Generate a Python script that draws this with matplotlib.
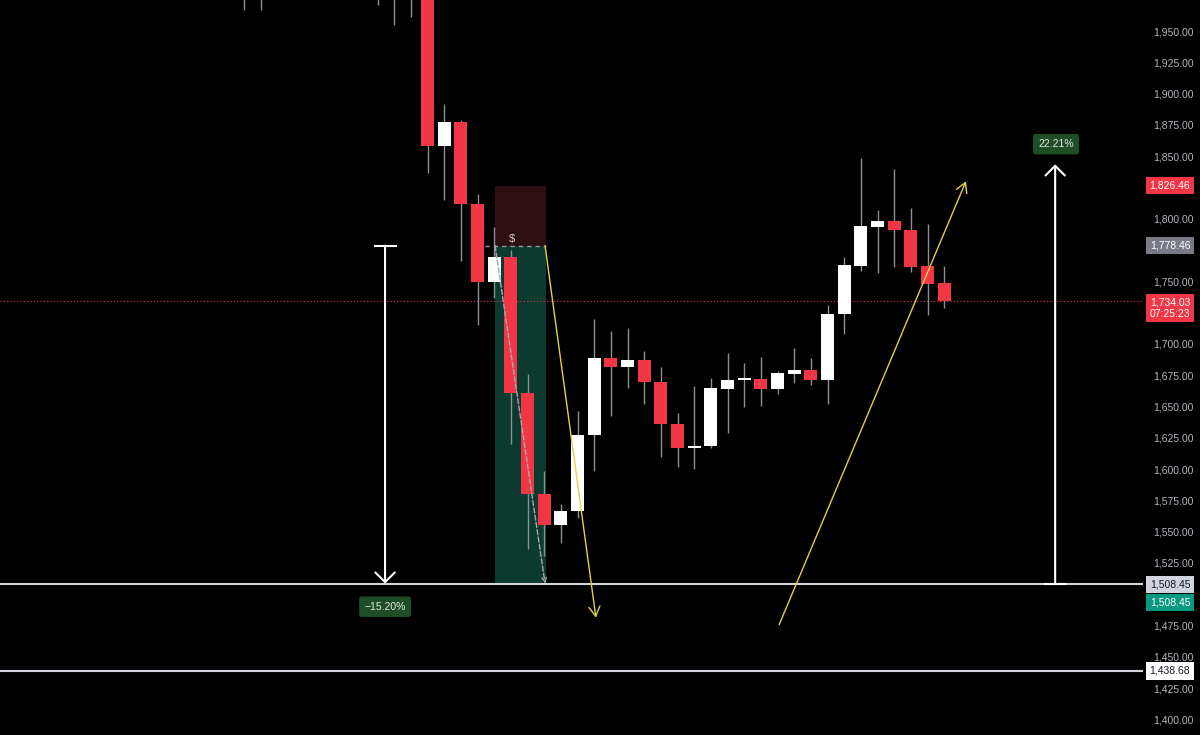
import matplotlib
matplotlib.use('Agg')
import matplotlib.pyplot as plt
import matplotlib.transforms as mtrans
from matplotlib.patches import Rectangle

plt.rcParams['font.family'] = ['Liberation Sans', 'DejaVu Sans']

# candles, index 0 = the tall red bar coming in from the top
idx = list(range(-11, 32))
opens = [2030, 2010, 2025, 2050, 2040, 2015, 2030, 2000, 2020, 2005, 1995,
         1990, 1858.0, 1877.2, 1811.6, 1749.2, 1769.2, 1660.4, 1580.4, 1555.6, 1566.8,
         1627.6, 1688.4, 1681.2, 1686.8, 1669.2, 1636.4, 1617.2, 1618.8, 1663.6, 1670.8,
         1671.6, 1663.6, 1675.6, 1678.8, 1670.8, 1723.6, 1762.0, 1793.2, 1798.0, 1790.8,
         1762.0, 1748.4]
highs = [2045, 2040, 2060, 2070, 2055, 2035, 2045, 2030, 2035, 2025, 2010,
         2000, 1891.6, 1878.8, 1819.6, 1793.2, 1774.8, 1675.6, 1598.8, 1572.4, 1646.0,
         1719.6, 1710.0, 1712.4, 1694.0, 1681.2, 1644.4, 1666.0, 1672.4, 1692.4, 1684.4,
         1689.2, 1678.0, 1696.4, 1688.4, 1730.8, 1769.2, 1848.4, 1806.8, 1839.6, 1808.4,
         1795.6, 1762.0]
lows = [1966.8, 1966.8, 1995, 2020, 2005, 1990, 1992, 1985, 1970.8, 1954.8, 1961.2,
        1836.4, 1814.8, 1766.0, 1714.8, 1736.4, 1620.4, 1536.4, 1530.8, 1541.2, 1561.2,
        1598.8, 1642.0, 1664.4, 1651.6, 1610.0, 1602.0, 1600.4, 1617.2, 1629.2, 1649.2,
        1650.0, 1659.6, 1668.4, 1666.8, 1651.6, 1707.6, 1758.0, 1756.4, 1761.2, 1757.2,
        1722.8, 1728.4]
closes = [2010, 2025, 2050, 2040, 2015, 2030, 2000, 2020, 2005, 1995, 1990,
          1858.0, 1877.2, 1811.6, 1749.2, 1769.2, 1660.4, 1580.4, 1555.6, 1566.8, 1627.6,
          1688.4, 1681.2, 1686.8, 1669.2, 1636.4, 1617.2, 1618.8, 1664.4, 1670.8, 1671.6,
          1663.6, 1676.4, 1678.8, 1670.8, 1723.6, 1762.8, 1794.0, 1798.0, 1790.8, 1761.2,
          1747.6, 1734.03]

# levels
entry = 1778.46
stop = 1826.46
target = 1508.45
support = 1438.68
last_price = 1734.03
measure_top = 1843.5

price_ticks = [1400, 1425, 1450, 1475, 1525, 1550, 1575, 1600, 1625, 1650, 1675,
               1700, 1750, 1800, 1850, 1875, 1900, 1925, 1950]

RED = '#f23645'
WHITE = '#ffffff'
WICK = '#8c8f99'
YELLOW = '#e3cf4a'
BOXGREEN = '#1e4d26'

fig = plt.figure(figsize=(12, 7.35), dpi=100, facecolor='black')
ax = fig.add_axes([0, 0, 1143 / 1200, 1])
ax.set_facecolor('black')

# position tool (short)
ax.add_patch(Rectangle((4.05, entry), 3.05, stop - entry, fc='#2e0f13', ec='none', zorder=1))
ax.add_patch(Rectangle((4.05, target), 3.05, entry - target, fc='#0b3b2f', ec='none', zorder=1))
ax.plot([3.45, 7.1], [entry, entry], color='#9a9a9a', lw=1, ls=(0, (3, 3)), zorder=2)
ax.text(5.05, entry + 1, '$', color='#d0d0d0', fontsize=8, ha='center', va='bottom', zorder=4)

# horizontal levels
ax.axhline(target, color='#d1d4dc', lw=1.5, zorder=2)
ax.axhline(support, color='#d1d4dc', lw=1.5, zorder=2)
ax.axhline(last_price, color=RED, lw=0.8, ls=(0, (1, 2)), zorder=2)

# candles
ax.vlines(idx, lows, highs, color=WICK, lw=1, zorder=3)
for x, o, c in zip(idx, opens, closes):
    col = WHITE if c >= o else RED
    h = max(abs(c - o), 1.6)
    ax.bar(x, h, bottom=min(o, c), width=0.78, color=col, lw=0, zorder=4)

# trade path inside the position box
ax.annotate('', xy=(7.05, target), xytext=(4.05, entry),
            arrowprops=dict(arrowstyle='->', color='#a8a8a8', lw=1, ls='--',
                            mutation_scale=8, shrinkA=0, shrinkB=0), zorder=5)

# yellow projection arrows
ax.annotate('', xy=(10.1, 1481.2), xytext=(7.05, entry),
            arrowprops=dict(arrowstyle='->,head_length=0.35,head_width=0.2', color=YELLOW,
                            lw=1, mutation_scale=20, shrinkA=0, shrinkB=0), zorder=5)
ax.annotate('', xy=(32.3, 1830.0), xytext=(21.09, 1475.6),
            arrowprops=dict(arrowstyle='->,head_length=0.35,head_width=0.2', color=YELLOW,
                            lw=1, mutation_scale=20, shrinkA=0, shrinkB=0), zorder=5)

# measurement tools
ax.plot([-3.15, -1.9], [entry, entry], color='white', lw=1.5, zorder=5)
ax.annotate('', xy=(-2.55, target), xytext=(-2.55, entry),
            arrowprops=dict(arrowstyle='->,head_length=0.35,head_width=0.35', color='white',
                            lw=1.5, mutation_scale=20, shrinkA=0, shrinkB=0), zorder=5)
ax.text(-2.55, 1490, '\u221215.20%', color='#dfe8df', fontsize=7.5, ha='center', va='center',
        bbox=dict(boxstyle='round,pad=0.5,rounding_size=0.25', fc=BOXGREEN, ec='none'), zorder=6)

ax.plot([37.05, 38.25], [target, target], color='white', lw=1.5, zorder=5)
ax.annotate('', xy=(37.65, measure_top), xytext=(37.65, target),
            arrowprops=dict(arrowstyle='->,head_length=0.35,head_width=0.35', color='white',
                            lw=1.5, mutation_scale=20, shrinkA=0, shrinkB=0), zorder=5)
ax.text(37.7, 1859.6, '22.21%', color='#dfe8df', fontsize=7.5, ha='center', va='center',
        bbox=dict(boxstyle='round,pad=0.5,rounding_size=0.25', fc=BOXGREEN, ec='none'), zorder=6)

ax.set_xlim(-25.65, 42.92)
ax.set_ylim(1387.5, 1974.8)

# price scale on the right
ax.yaxis.tick_right()
ax.set_yticks(price_ticks)
ax.set_yticklabels(['{:,.2f}'.format(p) for p in price_ticks])
ax.tick_params(axis='y', length=0, pad=7, labelcolor='#b2b5be', labelsize=7.5)
ax.set_xticks([])
for s in ax.spines.values():
    s.set_visible(False)

trans = mtrans.blended_transform_factory(fig.transFigure, ax.transData)


def price_tag(y, text, bg, fg):
    ax.text(1170 / 1200, y, text, transform=trans, ha='center', va='center',
            fontsize=7.5, color=fg, linespacing=1.1, clip_on=False,
            bbox=dict(boxstyle='square,pad=0.35', fc=bg, ec='none'), zorder=10)


price_tag(stop, '{:,.2f}'.format(stop), RED, 'white')
price_tag(entry, '{:,.2f}'.format(entry), '#787b86', 'white')
price_tag(1728.4, '{:,.2f}\n07:25:23'.format(last_price), RED, 'white')
price_tag(1507.5, '{:,.2f}'.format(target), '#d1d4dc', '#131722')
price_tag(1493.5, '{:,.2f}'.format(target), '#089981', 'white')
price_tag(support, '{:,.2f}'.format(support), 'white', '#131722')

fig.savefig('out.png', dpi=100, facecolor='black')
